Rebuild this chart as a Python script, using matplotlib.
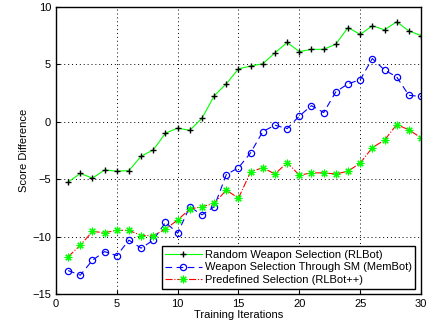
import numpy as np
import matplotlib.pyplot as plt

plt.rcParams['font.family'] = ['Liberation Sans', 'DejaVu Sans']

# iteracoes de treino
iteracoes = np.arange(1, 31)

random_rlbot = [-5.25, -4.5, -4.9, -4.2, -4.3, -4.25, -3.0, -2.45, -1.0, -0.55,
                -0.75, 0.3, 2.25, 3.3, 4.6, 4.85, 5.05, 6.0, 6.9, 6.1,
                6.3, 6.3, 6.75, 8.2, 7.6, 8.35, 8.0, 8.7, 7.9, 7.5]

membot = [-12.95, -13.35, -12.05, -11.3, -11.65, -10.3, -11.0, -10.3, -8.75, -9.7,
          -7.4, -8.1, -7.4, -4.6, -4.0, -2.7, -0.85, -0.3, -0.6, 0.5,
          1.4, 0.8, 2.6, 3.3, 3.65, 5.5, 4.5, 3.9, 2.3, 2.2]

rlbotpp = [-11.75, -10.75, -9.55, -9.65, -9.45, -9.45, -9.9, -9.9, -9.35, -8.55,
           -7.6, -7.4, -7.1, -5.95, -6.65, -4.35, -4.0, -4.55, -3.55, -4.65,
           -4.45, -4.45, -4.55, -4.3, -3.6, -2.25, -1.6, -0.25, -0.7, -1.4]

rotulos = ['Random Weapon Selection (RLBot)',
           'Weapon Selection Through SM (MemBot)',
           'Predefined Selection (RLBot++)']

fig, ax = plt.subplots(figsize=(4.27, 3.25), dpi=100)
fig.subplots_adjust(left=0.131, right=0.986, top=0.979, bottom=0.095)

ax.plot(iteracoes, random_rlbot, '-', color='#00ff00', lw=0.8,
        marker='+', mec='black', ms=5, mew=1.0, label=rotulos[0])
ax.plot(iteracoes, membot, '--', color='blue', lw=0.8, dashes=(6, 4),
        marker='o', mfc='none', mec='blue', ms=4.5, mew=0.9, label=rotulos[1])
ax.plot(iteracoes, rlbotpp, '-.', color='red', lw=0.8,
        marker=(8, 2, 0), mec='#00ff00', mfc='#00ff00', ms=5.5, mew=0.8, label=rotulos[2])

ax.set_xlim(0, 30)
ax.set_ylim(-15, 10)
ax.set_xticks(range(0, 31, 5))
ax.set_yticks(range(-15, 11, 5))
ax.grid(True, linestyle=(0, (1, 3)), color='black', lw=0.7)
ax.tick_params(direction='in', labelsize=8, length=3)
for s in ax.spines.values():
    s.set_linewidth(1.0)
ax.set_xlabel('Training Iterations', fontsize=8, labelpad=1)
ax.set_ylabel('Score Difference', fontsize=8, labelpad=2)

leg = ax.legend(loc='lower right', fontsize=8, fancybox=False, framealpha=1,
                edgecolor='black', borderaxespad=0.5, handlelength=3.3,
                borderpad=0.3, labelspacing=0.25, handletextpad=0.3)
leg.get_frame().set_linewidth(1.0)

fig.savefig('out.png', dpi=100)
